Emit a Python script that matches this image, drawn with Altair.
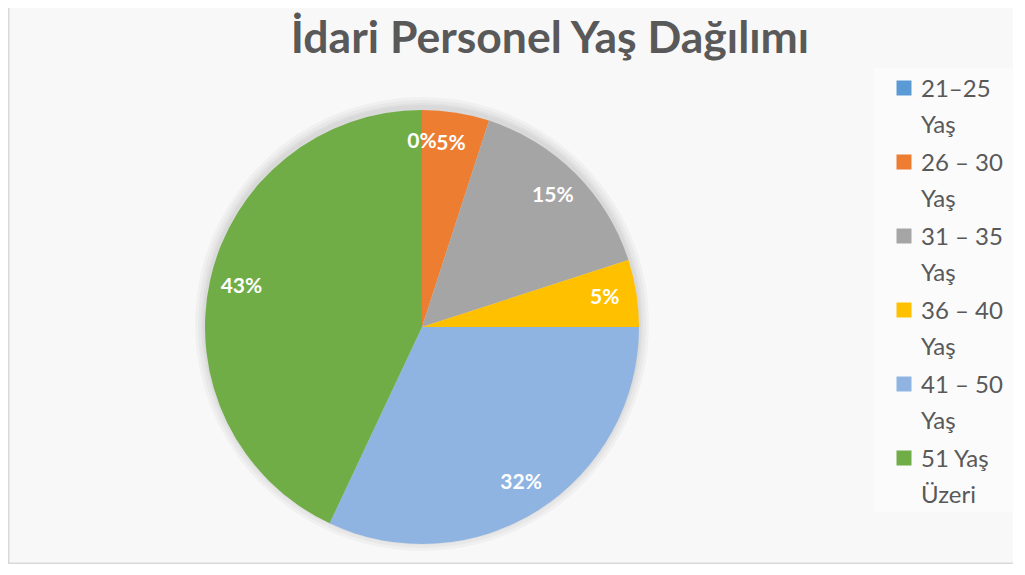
import altair as alt
import pandas as pd

categories = ["21–25 Yaş", "26 – 30 Yaş", "31 – 35 Yaş", "36 – 40 Yaş", "41 – 50 Yaş", "51 Yaş Üzeri"]
legend_labels = ["21–25\nYaş", "26 – 30\nYaş", "31 – 35\nYaş", "36 – 40\nYaş", "41 – 50\nYaş", "51 Yaş\nÜzeri"]
values = [0, 5, 15, 5, 32, 43]
colors = ["#5B9BD5", "#ED7D31", "#A5A5A5", "#FFC000", "#8FB4E2", "#70AD47"]
title_text = "İdari Personel Yaş Dağılımı"

W, H = 1005, 556
CX, CY, R = 414, 319, 217
FONT = "Lato"

df = pd.DataFrame({
    "cat": categories,
    "lab": legend_labels,
    "val": values,
    "pct": [v / 100 for v in values],
    "idx": list(range(len(categories))),
})

theta = alt.Theta("val:Q", stack=True)
order = alt.Order("idx:Q")

base = alt.Chart(df)

# soft shadow/glow around the pie
shadows = []
for r in [227, 224, 221, 219]:
    shadows.append(
        base.mark_arc(outerRadius=r, color="#000000", opacity=0.03).encode(
            theta=theta, order=order, x=alt.value(CX), y=alt.value(CY - 3)
        )
    )

pie = base.mark_arc(outerRadius=R).encode(
    theta=theta,
    order=order,
    color=alt.Color("cat:N", scale=alt.Scale(domain=categories, range=colors), legend=None),
    x=alt.value(CX),
    y=alt.value(CY),
)

labels = base.mark_text(
    radius=185, font=FONT, fontSize=21, fontWeight="bold", color="white"
).encode(
    theta=theta,
    order=order,
    text=alt.Text("pct:Q", format=".0%"),
    x=alt.value(CX),
    y=alt.value(CY),
)

title = alt.Chart(pd.DataFrame({"t": [title_text]})).mark_text(
    font=FONT, fontSize=44.5, fontWeight="bold", color="#595959", baseline="alphabetic", align="center"
).encode(text="t:N", x=alt.value(542), y=alt.value(45))

legend_bg = alt.Chart(pd.DataFrame({"t": [0]})).mark_rect(color="white", opacity=0.45).encode(
    x=alt.value(866), x2=alt.value(W), y=alt.value(60), y2=alt.value(504)
)

ypos = alt.Y("cat:N", sort=categories,
             scale=alt.Scale(type="point", domain=categories, range=[80, 450], padding=0),
             axis=None)

leg_sym = base.mark_point(shape="square", filled=True, size=225, opacity=1).encode(
    x=alt.value(896),
    y=ypos,
    color=alt.Color("cat:N", scale=alt.Scale(domain=categories, range=colors), legend=None),
)

leg_txt = base.mark_text(
    font=FONT, fontSize=24, color="#595959", align="left", baseline="alphabetic",
    lineBreak="\n", lineHeight=36, dy=9
).encode(x=alt.value(913), y=ypos, text="lab:N")

border_left = alt.Chart(pd.DataFrame({"t": [0]})).mark_rule(color="#d9d9d9", strokeWidth=1.5).encode(
    x=alt.value(0.75), y=alt.value(0), y2=alt.value(H)
)
border_bottom = alt.Chart(pd.DataFrame({"t": [0]})).mark_rule(color="#d9d9d9", strokeWidth=1.5).encode(
    x=alt.value(0), x2=alt.value(W), y=alt.value(H - 0.75)
)

chart = alt.layer(
    legend_bg, *shadows, pie, labels, title, leg_sym, leg_txt, border_left, border_bottom
).properties(
    width=W, height=H, padding=0, background="#f8f8f8",
    autosize=alt.AutoSizeParams(type="none"),
).configure_view(stroke=None)

chart.save("out.html", embed_options={"renderer": "svg", "actions": False})
